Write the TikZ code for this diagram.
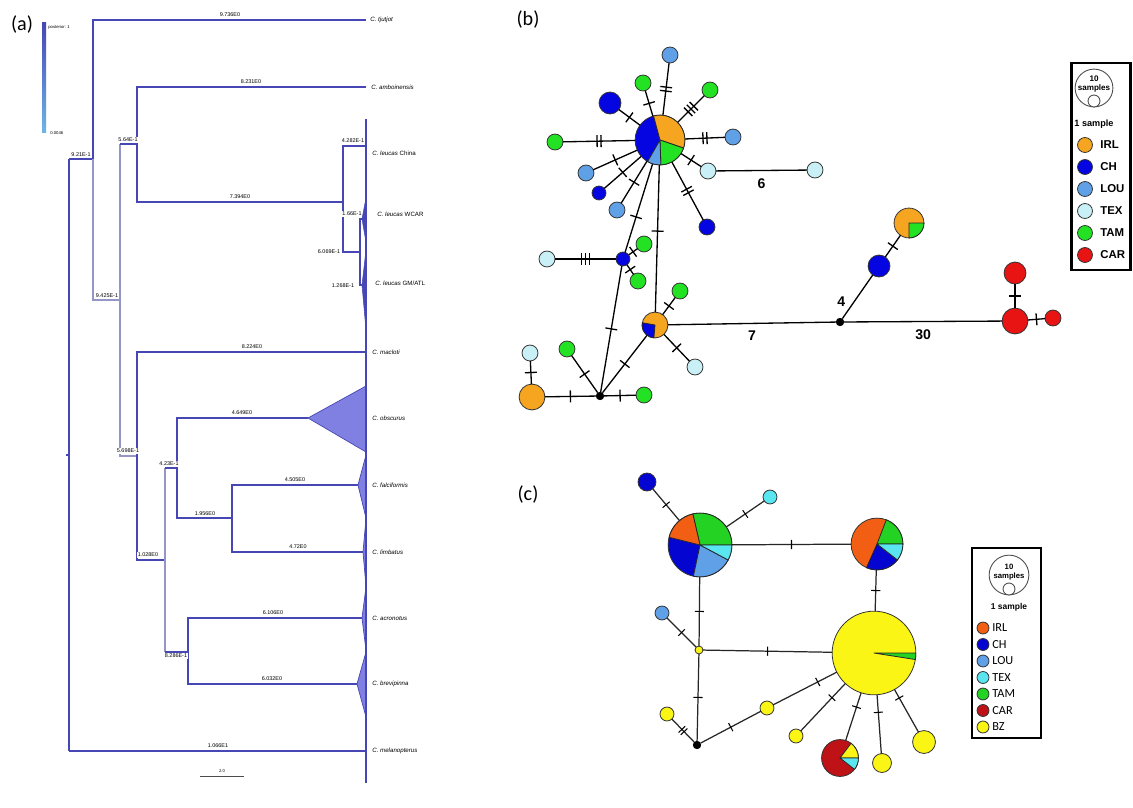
\documentclass[tikz,border=0pt]{standalone}
\usepackage{fontspec}
\setmainfont{Liberation Sans}
\newfontfamily\panelfont{Carlito}
\usetikzlibrary{calc}

% tree colours
\definecolor{trdark}{RGB}{70,70,180}
\definecolor{trlight}{RGB}{150,150,198}
\definecolor{cladefill}{RGB}{128,128,226}
% haplotype colours, network (b)
\definecolor{bIRL}{RGB}{246,165,32}
\definecolor{bCH}{RGB}{5,5,225}
\definecolor{bLOU}{RGB}{95,160,230}
\definecolor{bTEX}{RGB}{200,240,246}
\definecolor{bTAM}{RGB}{35,225,35}
\definecolor{bCAR}{RGB}{232,20,20}
% haplotype colours, network (c)
\definecolor{cIRL}{RGB}{242,95,20}
\definecolor{cCH}{RGB}{5,5,210}
\definecolor{cLOU}{RGB}{95,160,230}
\definecolor{cTEX}{RGB}{90,230,240}
\definecolor{cTAM}{RGB}{35,210,35}
\definecolor{cCAR}{RGB}{190,18,22}
\definecolor{cBZ}{RGB}{250,245,20}

% fonts of the tree labels
\newcommand{\brl}{\fontsize{3.1}{3.5}\selectfont}
\newcommand{\spl}{\fontsize{3.5}{4}\selectfont}

% mutation ticks
\newcommand{\tbar}{\rule[-3.4pt]{0.75pt}{6.8pt}}
\newcommand{\tone}{\tbar}
\newcommand{\ttwo}{\tbar\hspace{1.5pt}\tbar}
\newcommand{\tthree}{\tbar\hspace{1.5pt}\tbar\hspace{1.5pt}\tbar}
\newcommand{\sbar}{\rule[-2.6pt]{0.6pt}{5.2pt}}
\newcommand{\sone}{\sbar}
\newcommand{\stwo}{\sbar\hspace{1.2pt}\sbar}

% pie slice on a haplotype node: node, radius (px), from, to (degrees), colour
\newcommand{\pieslice}[5]{%
  \filldraw[fill=#5,draw=black!85,line width=0.45pt,line join=round]
    (#1.center) -- ++({#3}:{#2*0.5669pt})
    arc[start angle={#3},end angle={#4},radius={#2*0.5669pt}] -- cycle;}

\begin{document}
\begin{tikzpicture}[x=0.02cm,y=-0.02cm,
  tline/.style={draw=trdark,line width=1.0pt},
  tlight/.style={draw=trlight,line width=0.9pt},
  blab/.style={font=\brl,inner sep=0.4pt,fill=white},
  slab/.style={font=\spl,anchor=west,inner sep=0pt},
  hap/.style 2 args={circle,draw=black!80,line width=0.45pt,fill=#1,
    minimum size={#2*1.1338pt},inner sep=0pt,outer sep=0pt},
  knot/.style={circle,fill=black,draw=black,minimum size=4.3pt,inner sep=0pt},
  ebond/.style={draw=black,line width=0.75pt},
  cbond/.style={draw=black!85,line width=0.7pt},
  tk/.style={sloped,pos=0.5,inner sep=0pt,outer sep=0pt},
  elab/.style={font=\bfseries\fontsize{8}{9}\selectfont,inner sep=1pt},
  panel/.style={font=\panelfont\fontsize{11.5}{13}\selectfont,inner sep=0pt},
  legb/.style={font=\bfseries\fontsize{6.5}{7}\selectfont,anchor=west,inner sep=0pt},
  legc/.style={font=\panelfont\fontsize{7}{8}\selectfont,anchor=west,inner sep=0pt},
  sizecirc/.style={circle,draw=black!70,line width=0.5pt,inner sep=0pt,fill=white},
]
\fill[white] (0,0) rectangle (1133,808);
\useasboundingbox (0,0) rectangle (1133,808);

% ---------------- panel labels ----------------
\node[panel] (pa) at (22,25) {(a)};
\node[panel] (pb) at (528,20) {(b)};
\node[panel] (pc) at (528,495) {(c)};

% ---------------- (a) tree ----------------
% posterior colour bar
\shade[top color=trdark,bottom color={rgb,255:red,110;green,180;blue,232}] (42,22) rectangle (46,132);
\node[font=\fontsize{2.4}{3}\selectfont,anchor=west,inner sep=0pt] (cbtop) at (48,27) {posterior\,:\,1};
\node[font=\fontsize{2.4}{3}\selectfont,anchor=west,inner sep=0pt] (cbbot) at (50,133) {0.0046};

% collapsed clades
\filldraw[fill=cladefill,draw=trdark,line width=0.4pt] (308,418) -- (366,386) -- (366,452) -- cycle;
\filldraw[fill=cladefill,draw=trdark,line width=0.4pt] (358,485) -- (366,455) -- (366,518) -- cycle;
\filldraw[fill=cladefill,draw=trdark,line width=0.4pt] (363,552) -- (366,519) -- (366,586) -- cycle;
\filldraw[fill=cladefill,draw=trdark,line width=0.4pt] (362,618) -- (366,587) -- (366,650) -- cycle;
\filldraw[fill=cladefill,draw=trdark,line width=0.4pt] (357,684) -- (366,652) -- (366,717) -- cycle;
\filldraw[fill=trdark,draw=trdark,line width=0.3pt] (362,219) -- (366,198) -- (366,242) -- cycle;
\filldraw[fill=trdark,draw=trdark,line width=0.3pt] (362,285) -- (366,250) -- (366,330) -- cycle;

% branches
\draw[tline] (366,119) -- (366,783);
\draw[tline] (66,455) -- (69,455);
\draw[tline] (69,159) -- (69,751) (69,159) -- (93,159);
\draw[tline] (93,159) -- (93,20) -- (366,20);
\draw[tlight] (93,159) -- (93,300) -- (120,300);
\draw[tlight] (120,144) -- (120,456) -- (137,456);
\draw[tline] (120,144) -- (137,144);
\draw[tline] (366,87) -- (137,87) -- (137,202) -- (343,202);
\draw[tline] (366,146) -- (343,146) -- (343,252) -- (360,252);
\draw[tline] (366,219) -- (360,219) -- (360,285) -- (366,285);
\draw[tline] (366,352) -- (137,352) -- (137,560) -- (165,560);
\draw[tlight] (165,468) -- (165,652);
\draw[tline] (165,468) -- (177,468);
\draw[tline] (308,418) -- (177,418) -- (177,518) -- (232,518);
\draw[tline] (358,485) -- (232,485) -- (232,552) -- (363,552);
\draw[tline] (165,652) -- (188,652);
\draw[tline] (362,618) -- (188,618) -- (188,684) -- (357,684);
\draw[tline] (69,751) -- (366,751);

% branch values
\node[blab] (v1) at (230,15) {9.736E0};
\node[blab] (v2) at (251,82) {8.231E0};
\node[blab] (v3) at (81,155) {9.21E-1};
\node[blab] (v4) at (128,140) {5.64E-1};
\node[blab] (v5) at (107,296) {9.425E-1};
\node[blab] (v6) at (240,197) {7.394E0};
\node[blab] (v7) at (353,141) {4.282E-1};
\node[blab] (v8) at (329,252) {6.069E-1};
\node[blab] (v9) at (352,214) {1.66E-1};
\node[blab] (v10) at (343,286) {1.268E-1};
\node[blab] (v11) at (252,347) {8.224E0};
\node[blab] (v12) at (128,451) {5.698E-1};
\node[blab] (v13) at (242,413) {4.649E0};
\node[blab] (v14) at (169,464) {4.23E-1};
\node[blab] (v15) at (295,480) {4.505E0};
\node[blab] (v16) at (205,514) {1.956E0};
\node[blab] (v17) at (298,547) {4.72E0};
\node[blab] (v18) at (148,555) {1.028E0};
\node[blab] (v19) at (176,656) {8.286E-1};
\node[blab] (v20) at (273,613) {6.106E0};
\node[blab] (v21) at (272,679) {6.032E0};
\node[blab] (v22) at (218,746) {1.066E1};

% tip labels
\node[slab] (t1) at (370,20) {\textit{C. tjutjot}};
\node[slab] (t2) at (371,87) {\textit{C. amboinensis}};
\node[slab] (t3) at (372,153) {\textit{C. leucas} China};
\node[slab] (t4) at (377,214) {\textit{C. leucas} WCAR};
\node[slab] (t5) at (375,283) {\textit{C. leucas} GM/ATL};
\node[slab] (t6) at (372,352) {\textit{C. macloti}};
\node[slab] (t7) at (372,418) {\textit{C. obscurus}};
\node[slab] (t8) at (372,485) {\textit{C. falciformis}};
\node[slab] (t9) at (372,552) {\textit{C. limbatus}};
\node[slab] (t10) at (372,618) {\textit{C. acronotus}};
\node[slab] (t11) at (372,684) {\textit{C. brevipinna}};
\node[slab] (t12) at (372,751) {\textit{C. melanopterus}};

% scale bar
\coordinate (sb1) at (200,776);
\coordinate (sb2) at (244,776);
\draw[line width=0.5pt,black!70] (sb1) -- (sb2);
\node[font=\fontsize{2.4}{3}\selectfont,inner sep=0pt] (sbl) at (222,771) {2.0};

% ---------------- (b) network ----------------
\node[hap={bCH}{25}] (c0) at (660,140) {};
\node[hap={bLOU}{8}] (b1) at (670,55) {};
\node[hap={bTAM}{8}] (b2) at (643,83) {};
\node[hap={bCH}{11}] (b3) at (610,103) {};
\node[hap={bTAM}{8}] (b4) at (710,90) {};
\node[hap={bLOU}{8}] (b5) at (733,137) {};
\node[hap={bTAM}{8}] (b6) at (555,142) {};
\node[hap={bLOU}{8}] (b7) at (586,173) {};
\node[hap={bCH}{7}] (b8) at (599,193) {};
\node[hap={bLOU}{8}] (b9) at (617,210) {};
\node[hap={bTEX}{8}] (b10) at (708,171) {};
\node[hap={bTEX}{8}] (b11) at (815,170) {};
\node[hap={bCH}{8}] (b12) at (707,227) {};
\node[hap={bCH}{7}] (b13) at (623,259) {};
\node[hap={bIRL}{13}] (b14) at (655,325) {};
\node[hap={bTEX}{8}] (b15) at (547,259) {};
\node[hap={bTAM}{8}] (b16) at (644,244) {};
\node[hap={bTAM}{8}] (b17) at (638,281) {};
\node[knot] (k1) at (600,396) {};
\node[hap={bIRL}{13}] (b18) at (532,397) {};
\node[hap={bTEX}{8}] (b19) at (530,353) {};
\node[hap={bTAM}{8}] (b20) at (567,349) {};
\node[hap={bTAM}{8}] (b21) at (644,395) {};
\node[hap={bTAM}{8}] (b22) at (680,291) {};
\node[hap={bTEX}{8}] (b23) at (695,367) {};
\node[knot] (k2) at (840,322) {};
\node[hap={bCH}{11}] (b24) at (879,266) {};
\node[hap={bIRL}{15}] (b25) at (909,223) {};
\node[hap={bCAR}{13}] (b26) at (1015,321) {};
\node[hap={bCAR}{11}] (b27) at (1015,273) {};
\node[hap={bCAR}{8}] (b28) at (1053,318) {};

\draw[ebond] (c0) -- node[tk]{\ttwo} (b1);
\draw[ebond] (c0) -- node[tk]{\tone} (b2);
\draw[ebond] (c0) -- node[tk]{\tone} (b3);
\draw[ebond] (c0) -- node[tk]{\tthree} (b4);
\draw[ebond] (c0) -- node[tk]{\ttwo} (b5);
\draw[ebond] (c0) -- node[tk]{\ttwo} (b6);
\draw[ebond] (c0) -- node[tk]{\tone} (b7);
\draw[ebond] (c0) -- node[tk]{\tone} (b8);
\draw[ebond] (c0) -- node[tk]{\tone} (b9);
\draw[ebond] (c0) -- node[tk]{\tone} (b10);
\draw[ebond] (b10) -- node[elab,below=3pt]{6} (b11);
\draw[ebond] (c0) -- node[tk]{\ttwo} (b12);
\draw[ebond] (c0) -- node[tk,pos=0.6]{\tone} (b13);
\draw[ebond] (c0) -- node[tk,pos=0.45]{\tone} (b14);
\draw[ebond] (b13) -- node[tk]{\tthree} (b15);
\draw[ebond] (b13) -- node[tk]{\tone} (b16);
\draw[ebond] (b13) -- node[tk]{\tone} (b17);
\draw[ebond] (b13) -- node[tk]{\tone} (k1);
\draw[ebond] (b14) -- node[tk]{\tone} (k1);
\draw[ebond] (k1) -- node[tk]{\tone} (b18);
\draw[ebond] (b18) -- node[tk]{\tone} (b19);
\draw[ebond] (k1) -- node[tk]{\tone} (b20);
\draw[ebond] (k1) -- node[tk]{\tone} (b21);
\draw[ebond] (b14) -- node[tk]{\tone} (b22);
\draw[ebond] (b14) -- node[tk]{\tone} (b23);
\draw[ebond] (b14) -- node[elab,below=3pt]{7} (k2);
\draw[ebond] (k2) -- node[elab,left=4pt,pos=0.4]{4} (b24);
\draw[ebond] (b24) -- node[tk]{\tone} (b25);
\draw[ebond] (k2) -- node[elab,below=3pt]{30} (b26);
\draw[ebond] (b26) -- node[tk]{\tone} (b27);
\draw[ebond] (b26) -- node[tk]{\tone} (b28);

\pieslice{c0}{25}{-19}{105}{bIRL}
\pieslice{c0}{25}{-88}{-19}{bTAM}
\pieslice{c0}{25}{-120}{-88}{bLOU}
\pieslice{b14}{13}{170}{265}{bCH}
\pieslice{b25}{15}{-90}{0}{bTAM}

% legend (b)
\draw[line width=1.7pt] (1071,63) rectangle (1130,270);
\node[sizecirc,minimum size=21.5pt] (lb10) at (1094,88) {};
\node[font=\bfseries\fontsize{4.6}{5.4}\selectfont,align=center,inner sep=0pt] (lb10t) at (1094,84) {10\\samples};
\node[sizecirc,minimum size=6.8pt] (lb1) at (1094,101) {};
\node[font=\bfseries\fontsize{5.2}{6}\selectfont,inner sep=0pt] (lb1t) at (1094,124) {1 sample};
\node[hap={bIRL}{7.5}] (lbi) at (1085,145) {};
\node[hap={bCH}{7.5}] (lbc) at (1085,167) {};
\node[hap={bLOU}{7.5}] (lbl) at (1085,189) {};
\node[hap={bTEX}{7.5}] (lbt) at (1085,211) {};
\node[hap={bTAM}{7.5}] (lbm) at (1085,233) {};
\node[hap={bCAR}{7.5}] (lbr) at (1085,255) {};
\node[legb] at (1100,145) {IRL};
\node[legb] at (1100,167) {CH};
\node[legb] at (1100,189) {LOU};
\node[legb] at (1100,211) {TEX};
\node[legb] at (1100,233) {TAM};
\node[legb] at (1100,255) {CAR};

% ---------------- (c) network ----------------
\node[hap={cCH}{32}] (p1) at (700,545) {};
\node[hap={cIRL}{26}] (p2) at (877,544) {};
\node[hap={cBZ}{42}] (y0) at (874,653) {};
\node[hap={cCH}{9}] (q1) at (647,482) {};
\node[hap={cTEX}{7}] (q2) at (770,497) {};
\node[hap={cBZ}{4}] (s1) at (699,650) {};
\node[hap={cLOU}{7}] (q3) at (662,613) {};
\node[knot] (k3) at (697,745) {};
\node[hap={cBZ}{7}] (q4) at (667,714) {};
\node[hap={cBZ}{7}] (q5) at (767,708) {};
\node[hap={cBZ}{7}] (q6) at (796,736) {};
\node[hap={cCAR}{18.5}] (q7) at (840,758) {};
\node[hap={cBZ}{9.5}] (q8) at (882,763) {};
\node[hap={cBZ}{11.5}] (q9) at (924,742) {};

\draw[cbond] (p1) -- node[tk]{\sone} (q1);
\draw[cbond] (p1) -- node[tk]{\sone} (q2);
\draw[cbond] (p1) -- node[tk]{\sone} (p2);
\draw[cbond] (p2) -- node[tk]{\sone} (y0);
\draw[cbond] (p1) -- node[tk]{\sone} (s1);
\draw[cbond] (s1) -- node[tk]{\sone} (y0);
\draw[cbond] (s1) -- node[tk]{\sone} (q3);
\draw[cbond] (s1) -- node[tk]{\sone} (k3);
\draw[cbond] (k3) -- node[tk]{\stwo} (q4);
\draw[cbond] (k3) -- node[tk]{\sone} (q5);
\draw[cbond] (q5) -- node[tk,pos=0.7]{\sone} (y0);
\draw[cbond] (y0) -- node[tk,pos=0.3]{\sone} (q6);
\draw[cbond] (y0) -- node[tk,pos=0.3]{\sone} (q7);
\draw[cbond] (y0) -- node[tk,pos=0.3]{\sone} (q8);
\draw[cbond] (y0) -- node[tk,pos=0.2]{\sone} (q9);

\pieslice{p1}{32}{0}{103}{cTAM}
\pieslice{p1}{32}{103}{166}{cIRL}
\pieslice{p1}{32}{258}{332}{cLOU}
\pieslice{p1}{32}{332}{360}{cTEX}
\pieslice{p2}{26}{0}{69}{cTAM}
\pieslice{p2}{26}{246}{322}{cCH}
\pieslice{p2}{26}{322}{360}{cTEX}
\pieslice{y0}{42}{-9}{0}{cTAM}
\pieslice{q7}{18.5}{0}{53}{cBZ}
\pieslice{q7}{18.5}{-38}{0}{cTEX}

% legend (c)
\draw[line width=1.5pt] (972,548) rectangle (1041,738);
\node[sizecirc,minimum size=22.6pt] (lc10) at (1009,575) {};
\node[font=\bfseries\fontsize{4.4}{5.2}\selectfont,align=center,inner sep=0pt] (lc10t) at (1009,572) {10\\samples};
\node[sizecirc,minimum size=6.8pt] (lc1) at (1009,589) {};
\node[font=\bfseries\fontsize{4.8}{5.6}\selectfont,inner sep=0pt] (lc1t) at (1009,607) {1 sample};
\node[hap={cIRL}{6}] (lci) at (983,628) {};
\node[hap={cCH}{6}] (lcc) at (983,644.5) {};
\node[hap={cLOU}{6}] (lcl) at (983,661) {};
\node[hap={cTEX}{6}] (lct) at (983,677.5) {};
\node[hap={cTAM}{6}] (lcm) at (983,694) {};
\node[hap={cCAR}{6}] (lcr) at (983,710.5) {};
\node[hap={cBZ}{6}] (lcb) at (983,727) {};
\node[legc] at (992,628) {IRL};
\node[legc] at (992,644.5) {CH};
\node[legc] at (992,661) {LOU};
\node[legc] at (992,677.5) {TEX};
\node[legc] at (992,694) {TAM};
\node[legc] at (992,710.5) {CAR};
\node[legc] at (992,727) {BZ};
\end{tikzpicture}
\end{document}
